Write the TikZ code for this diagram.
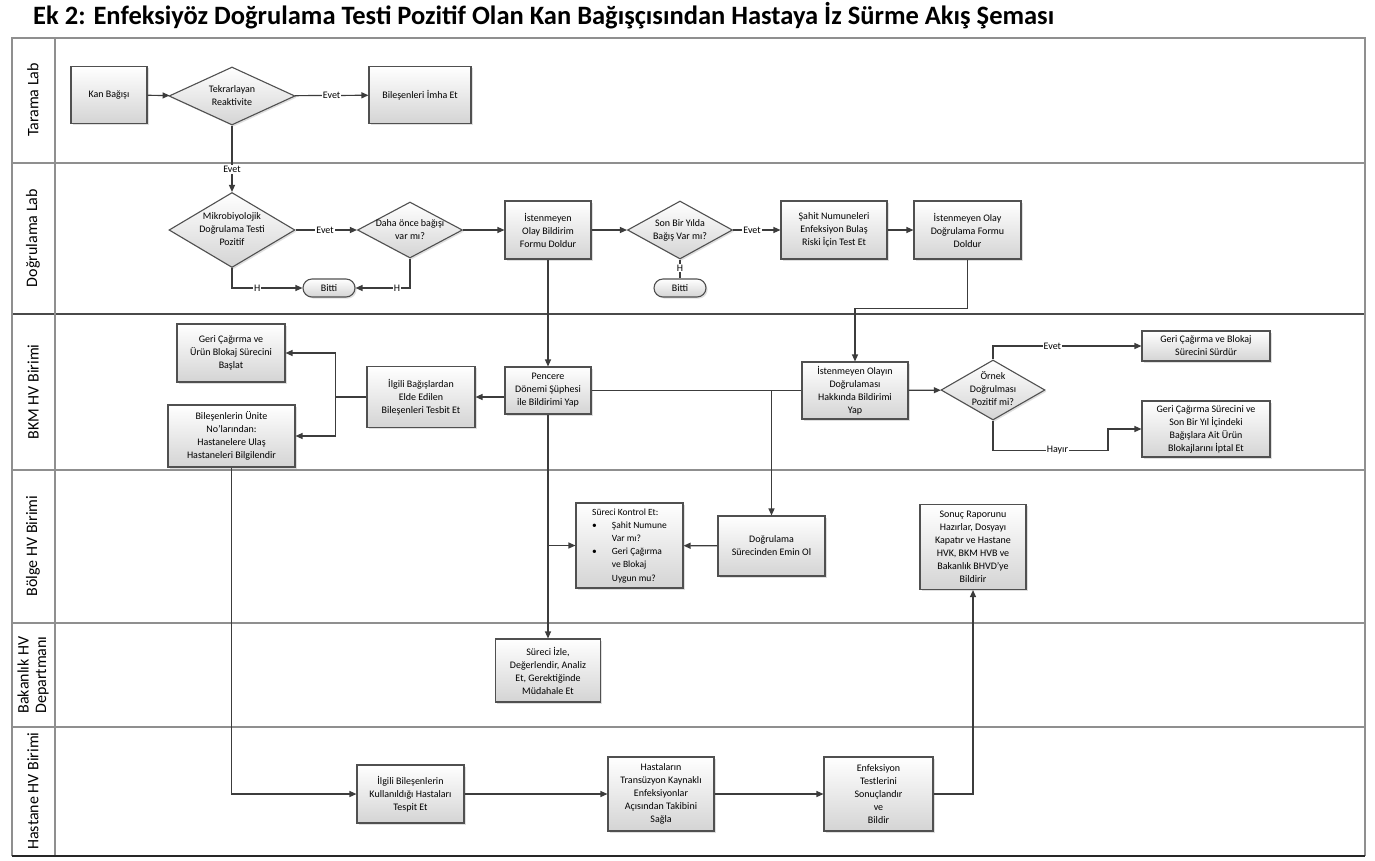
\documentclass[tikz,border=0pt]{standalone}
\usepackage{fontspec}
\setmainfont{Carlito}
\usetikzlibrary{shapes.geometric,shadows,arrows.meta}

\definecolor{linec}{HTML}{3C3C3C}
\definecolor{boxl}{HTML}{505050}
\definecolor{boxb}{HTML}{D4D4D4}
\definecolor{lanel}{HTML}{8F8F8F}
\definecolor{laned}{HTML}{4A4A4A}

\newcommand{\dtext}[1]{\smash{\makebox[0pt]{\raisebox{-2.5pt}{\begin{tabular}{@{}c@{}}#1\end{tabular}}}}}

\tikzset{
 base/.style={draw=boxl, line width=1.1pt, top color=white, bottom color=boxb,
   drop shadow={opacity=0.25, shadow xshift=1.6pt, shadow yshift=-1.6pt},
   font=\fontsize{10}{13}\selectfont, align=center, inner sep=1pt},
 proc/.style={base, rectangle},
 dec/.style={base, diamond, inner sep=0pt},
 term/.style={base, rectangle, rounded corners=9pt, minimum width=52pt, minimum height=18pt},
 arr/.style={draw=linec, line width=1.2pt, -{Triangle[length=7pt,width=6pt]}},
 ln/.style={draw=linec, line width=1.2pt},
 lbl/.style={fill=white, inner sep=1pt, font=\fontsize{10}{11}\selectfont},
 lane/.style={draw=lanel, line width=2pt},
 laned/.style={draw=laned, line width=2.2pt},
 lanetxt/.style={rotate=90, font=\fontsize{16}{17.5}\selectfont, align=center},
}

\begin{document}
\begin{tikzpicture}[x=1pt, y=-1pt]
\useasboundingbox (0,0) rectangle (1375,860);
\fill[white] (0,0) rectangle (1375,860);

% title
\node[anchor=west, inner sep=0pt, font=\bfseries\fontsize{26.5}{30}\selectfont] (title) at (33,16)
 {Ek 2: Enfeksiyöz Doğrulama Testi Pozitif Olan Kan Bağışçısından Hastaya İz Sürme Akış Şeması};

% frame and lanes
\draw[lane] (12,163) -- (1365,163);
\draw[laned] (12,314) -- (1365,314);
\draw[lane] (12,470) -- (1365,470);
\draw[lane] (12,623) -- (1365,623);
\draw[lane] (12,727) -- (1365,727);
\draw[draw=lanel, line width=1.6pt] (55,38) -- (55,856);
\draw[draw=lanel, line width=1.8pt] (12,856) -- (12,38) -- (1365,38) -- (1365,856);
\draw[draw=black!85, line width=2.4pt] (12,856) -- (1365,856);

\node[lanetxt] (l1) at (33,100) {Tarama Lab};
\node[lanetxt] (l2) at (33,238) {Doğrulama Lab};
\node[lanetxt] (l3) at (33,392) {BKM HV Birimi};
\node[lanetxt] (l4) at (33,546) {Bölge HV Birimi};
\node[lanetxt] (l5) at (33,675) {Bakanlık HV\\Departmanı};
\node[lanetxt] (l6) at (33,791) {Hastane HV Birimi};

% Tarama Lab
\node[proc, minimum width=76pt, minimum height=57pt] (kan) at (109,95) {Kan Bağışı};
\node[dec, minimum width=126pt, minimum height=58pt] (tekr) at (232,96) {\dtext{Tekrarlayan\\Reaktivite}};
\node[proc, minimum width=102pt, minimum height=57pt] (imha) at (420,95) {Bileşenleri İmha Et};

% Dogrulama Lab
\node[dec, minimum width=126pt, minimum height=75pt] (mikro) at (232,230) {\dtext{Mikrobiyolojik\\Doğrulama Testi\\Pozitif}};
\node[dec, minimum width=105pt, minimum height=56pt] (daha) at (410,230) {\dtext{Daha önce bağışı\\var mı?}};
\node[term] (bitti1) at (329,288) {Bitti};
\node[proc, minimum width=86pt, minimum height=58pt] (bildirim) at (548,230) {İstenmeyen\\Olay Bildirim\\Formu Doldur};
\node[dec, minimum width=105pt, minimum height=58pt] (son) at (680,230) {\dtext{Son Bir Yılda\\Bağış Var mı?}};
\node[term] (bitti2) at (680,288) {Bitti};
\node[proc, minimum width=106pt, minimum height=58pt] (sahit) at (834,230) {Şahit Numuneleri\\Enfeksiyon Bulaş\\Riski İçin Test Et};
\node[proc, minimum width=107pt, minimum height=58pt] (dform) at (967.5,230) {İstenmeyen Olay\\Doğrulama Formu\\Doldur};

% BKM HV Birimi
\node[proc, minimum width=108pt, minimum height=58pt] (geri) at (231,353) {Geri Çağırma ve\\Ürün Blokaj Sürecini\\Başlat};
\node[proc, minimum width=127pt, minimum height=62pt] (bilesen) at (231.5,436) {Bileşenlerin Ünite\\No’larından:\\Hastanelere Ulaş\\Hastaneleri Bilgilendir};
\node[proc, minimum width=108pt, minimum height=61pt] (ilgili) at (421,397) {İlgili Bağışlardan\\Elde Edilen\\Bileşenleri Tesbit Et};
\node[proc, minimum width=86pt, minimum height=47pt] (pencere) at (548,390.5) {Pencere\\Dönemi Şüphesi\\ile Bildirimi Yap};
\node[proc, minimum width=106pt, minimum height=57pt] (olayin) at (855,390.5) {İstenmeyen Olayın\\Doğrulaması\\Hakkında Bildirimi\\Yap};
\node[dec, minimum width=104pt, minimum height=60pt] (ornek) at (993,390) {\dtext{Örnek\\Doğrulması\\Pozitif mi?}};
\node[proc, minimum width=128pt, minimum height=30pt] (surdur) at (1206,346) {Geri Çağırma ve Blokaj\\Sürecini Sürdür};
\node[proc, minimum width=128pt, minimum height=56pt] (iptal) at (1206,429) {Geri Çağırma Sürecini ve\\Son Bir Yıl İçindeki\\Bağışlara Ait Ürün\\Blokajlarını İptal Et};

% Bolge HV Birimi
\node[proc, align=left, minimum width=107pt, minimum height=85pt, font=\fontsize{9.5}{13.2}\selectfont] (kontrol) at (629.5,545.5)
 {\begin{tabular}{@{}l@{\hspace{15pt}}l@{}}\multicolumn{2}{@{}l@{}}{Süreci Kontrol Et:}\\
  •&Şahit Numune\\ &Var mı?\\ •&Geri Çağırma\\ &ve Blokaj\\ &Uygun mu?\end{tabular}};
\node[proc, minimum width=107pt, minimum height=60pt] (dsure) at (771.5,546) {Doğrulama\\Sürecinden Emin Ol};
\node[proc, minimum width=106pt, minimum height=85pt] (sonuc) at (973,547) {Sonuç Raporunu\\Hazırlar, Dosyayı\\Kapatır ve Hastane\\HVK, BKM HVB ve\\Bakanlık BHVD’ye\\Bildirir};

% Bakanlik
\node[proc, minimum width=105pt, minimum height=63pt] (izle) at (548,670.5) {Süreci İzle,\\Değerlendir, Analiz\\Et, Gerektiğinde\\Müdahale Et};

% Hastane
\node[proc, minimum width=107pt, minimum height=58pt] (tespit) at (410.5,794) {İlgili Bileşenlerin\\Kullanıldığı Hastaları\\Tespit Et};
\node[proc, minimum width=106pt, minimum height=74pt] (trans) at (661,794) {Hastaların\\Transüzyon Kaynaklı\\Enfeksiyonlar\\Açısından Takibini\\Sağla};
\node[proc, minimum width=109pt, minimum height=74pt] (enf) at (878.5,794) {Enfeksiyon\\Testlerini\\Sonuçlandır\\ve\\Bildir};

% connectors
\draw[arr] (kan) -- (tekr);
\draw[arr] (tekr) -- node[lbl]{Evet} (imha);
\draw[arr] (tekr.south) -- node[lbl, pos=0.66]{Evet} (mikro.north);
\draw[arr] (mikro) -- node[lbl, pos=0.48]{Evet} (daha);
\draw[arr] (mikro.south) |- node[lbl, pos=0.68]{H} (bitti1.west);
\draw[arr] (daha.south) |- node[lbl, pos=0.62]{H} (bitti1.east);
\draw[arr] (daha) -- (bildirim);
\draw[arr] (bildirim) -- (son);
\draw[arr] (son) -- node[lbl, pos=0.4]{Evet} (sahit);
\draw[ln] (son.south) -- node[lbl, pos=0.45]{H} (bitti2.north);
\draw[arr] (sahit) -- (dform);
\draw[arr] (bildirim.south) -- (pencere.north);
\draw[arr] (dform.south) -- ++(0,49) -| (olayin.north);
\draw[arr] (olayin) -- (ornek);
\draw[arr] (ornek.north) |- node[lbl, pos=0.7]{Evet} (surdur.west);
\draw[arr] (ornek.south) -- ++(0,30) -- ++(115,0) node[lbl, pos=0.56]{Hayır} |- (iptal.west);
\draw[arr] (ilgili.east -| pencere.west) -- (ilgili.east);
\draw[ln] (ilgili.west) -- ++(-31,0) coordinate (j1);
\draw[arr] (j1) |- (geri.east);
\draw[arr] (j1) |- (bilesen.east);
\draw[ln] (pencere.east) -- (olayin.west);
\draw[arr] (dsure.north |- pencere.east) -- (dsure.north);
\draw[arr] (pencere.south) -- (izle.north);
\draw[arr] (pencere.south |- kontrol.west) -- (kontrol.west);
\draw[arr] (dsure) -- (kontrol);
\draw[arr] (bilesen.south) |- (tespit.west);
\draw[arr] (tespit) -- (trans);
\draw[arr] (trans) -- (enf);
\draw[arr] (enf.east) -| (sonuc.south);
\end{tikzpicture}
\end{document}
